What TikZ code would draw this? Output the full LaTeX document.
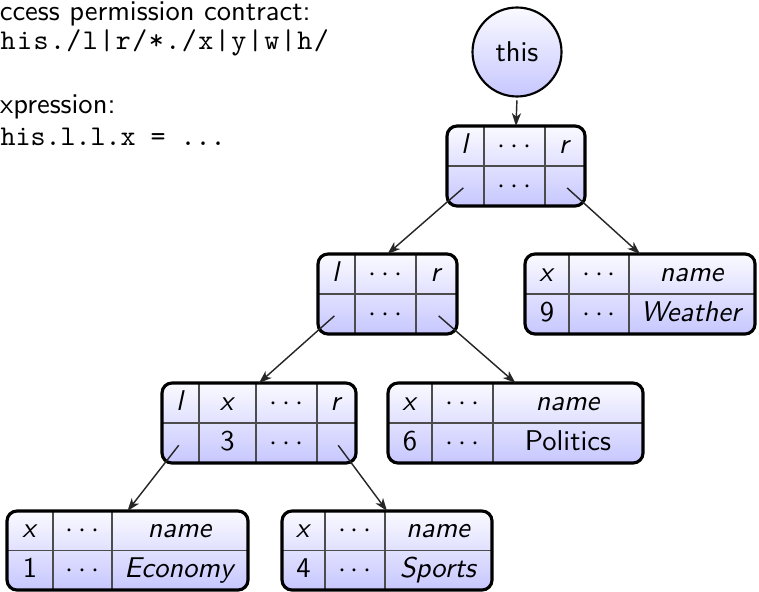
\documentclass[tikz,border=0pt]{standalone}
\usetikzlibrary{matrix,arrows.meta}

% one drawing unit
\newcommand\pxlen{0.35pt}
\newcommand\tabfont{\sffamily\fontsize{10}{12}\selectfont}
\newcommand\labfont{\sffamily\fontsize{10}{12}\selectfont}
\newcommand\codefont{\ttfamily\fontsize{10}{12}\selectfont}
% typewriter text with a little extra room after every character
\newcommand\tracked[1]{\trackedstep#1\relax}
\def\trackedstep#1{\ifx\relax#1\else#1\kern0.52pt\expandafter\trackedstep\fi}

\tikzset{
  cellbox/.style={inner sep=0pt, outer sep=0pt, minimum height=40*\pxlen,
    anchor=center, text height=7pt, text depth=2pt, font=\tabfont},
  tbl/.style={matrix of nodes, nodes in empty cells, inner sep=0pt, outer sep=0pt,
    row sep=0pt, column sep=0pt, anchor=north west, rounded corners=3.5pt,
    top color=blue!2!white, bottom color=blue!22!white, nodes={cellbox}},
  w1/.style={column 1/.style={nodes={minimum width=#1*\pxlen}}},
  w2/.style={column 2/.style={nodes={minimum width=#1*\pxlen}}},
  w3/.style={column 3/.style={nodes={minimum width=#1*\pxlen}}},
  w4/.style={column 4/.style={nodes={minimum width=#1*\pxlen}}},
  lowrows/.style={nodes={minimum height=39.5*\pxlen}},
  gridline/.style={draw=black!70, line width=0.4pt},
  tblborder/.style={draw=black, line width=1.1pt, rounded corners=3.5pt},
  conn/.style={draw=black!85, line width=0.5pt, shorten <=1pt,
    -{Stealth[length=4.5pt,width=3.2pt,inset=1.3pt]}},
  ref/.style={circle, draw=black, line width=0.75pt, minimum size=89*\pxlen,
    inner sep=0pt, top color=blue!2!white, bottom color=blue!22!white, font=\labfont},
  lab/.style={inner sep=0pt, anchor=base west},
}

% inner grid lines and outer frame of a two-row table
\newcommand\tblframe[2]{%
  \draw[gridline] (#1-1-1.south west) -- (#1-1-#2.south east);
  \foreach \colidx in {2,...,#2}{\draw[gridline] (#1-1-\colidx.north west) -- (#1-2-\colidx.south west);}
  \draw[tblborder] (#1.north west) rectangle (#1.south east);
}

\begin{document}
\begin{tikzpicture}[x=\pxlen, y=-\pxlen]
\useasboundingbox (0,0) rectangle (759,591);
\clip (0,0) rectangle (759,591);

% permission contract and expression
\node[lab, font=\labfont] (acchead) at (-19,21) {Access permission contract:};
\node[lab, font=\codefont] (acccode) at (-16.5,50) {\tracked{this./l|r/*./x|y|w|h/}};
\node[lab, font=\labfont] (exprhead) at (-17.5,114) {Expression:};
\node[lab, font=\codefont] (exprcode) at (-15,145) {this.l.l.x = ...};

% the receiver
\node[ref] (this) at (517,52) {this};

% objects
\matrix (root) [tbl, w1=37, w2=61, w3=40] at (447,126) {
  \textit{l} & $\cdots$ & \textit{r} \\
             & $\cdots$ &            \\
};
\matrix (lft) [tbl, w1=37, w2=61, w3=41] at (318,254) {
  \textit{l} & $\cdots$ & \textit{r} \\
             & $\cdots$ &            \\
};
\matrix (weather) [tbl, w1=44, w2=60, w3=126] at (525,254) {
  \textit{x} & $\cdots$ & \textit{name}    \\
  9          & $\cdots$ & \textit{Weather} \\
};
\matrix (lftlft) [tbl, w1=37, w2=57, w3=61, w4=39] at (162,383) {
  \textit{l} & \textit{x} & $\cdots$ & \textit{r} \\
             & 3          & $\cdots$ &            \\
};
\matrix (politics) [tbl, w1=44, w2=61, w3=150] at (388,383) {
  \textit{x} & $\cdots$ & \textit{name} \\
  6          & $\cdots$ & Politics      \\
};
\matrix (economy) [tbl, lowrows, w1=46, w2=59, w3=136] at (7,511) {
  \textit{x} & $\cdots$ & \textit{name}    \\
  1          & $\cdots$ & \textit{Economy} \\
};
\matrix (sports) [tbl, lowrows, w1=43, w2=60, w3=107] at (282,511) {
  \textit{x} & $\cdots$ & \textit{name}   \\
  4          & $\cdots$ & \textit{Sports} \\
};

\tblframe{root}{3}
\tblframe{lft}{3}
\tblframe{weather}{3}
\tblframe{lftlft}{4}
\tblframe{politics}{3}
\tblframe{economy}{3}
\tblframe{sports}{3}

% references
\draw[conn] (this.south) -- (root.north);
\draw[conn] (root-2-1.center) -- (lft.north);
\draw[conn] (root-2-3.center) -- (weather.north);
\draw[conn] (lft-2-1.center) -- (lftlft.north);
\draw[conn] (lft-2-3.center) -- (politics.north);
\draw[conn] (lftlft-2-1.center) -- (economy.north);
\draw[conn] (lftlft-2-4.center) -- (sports.north);
\end{tikzpicture}
\end{document}
